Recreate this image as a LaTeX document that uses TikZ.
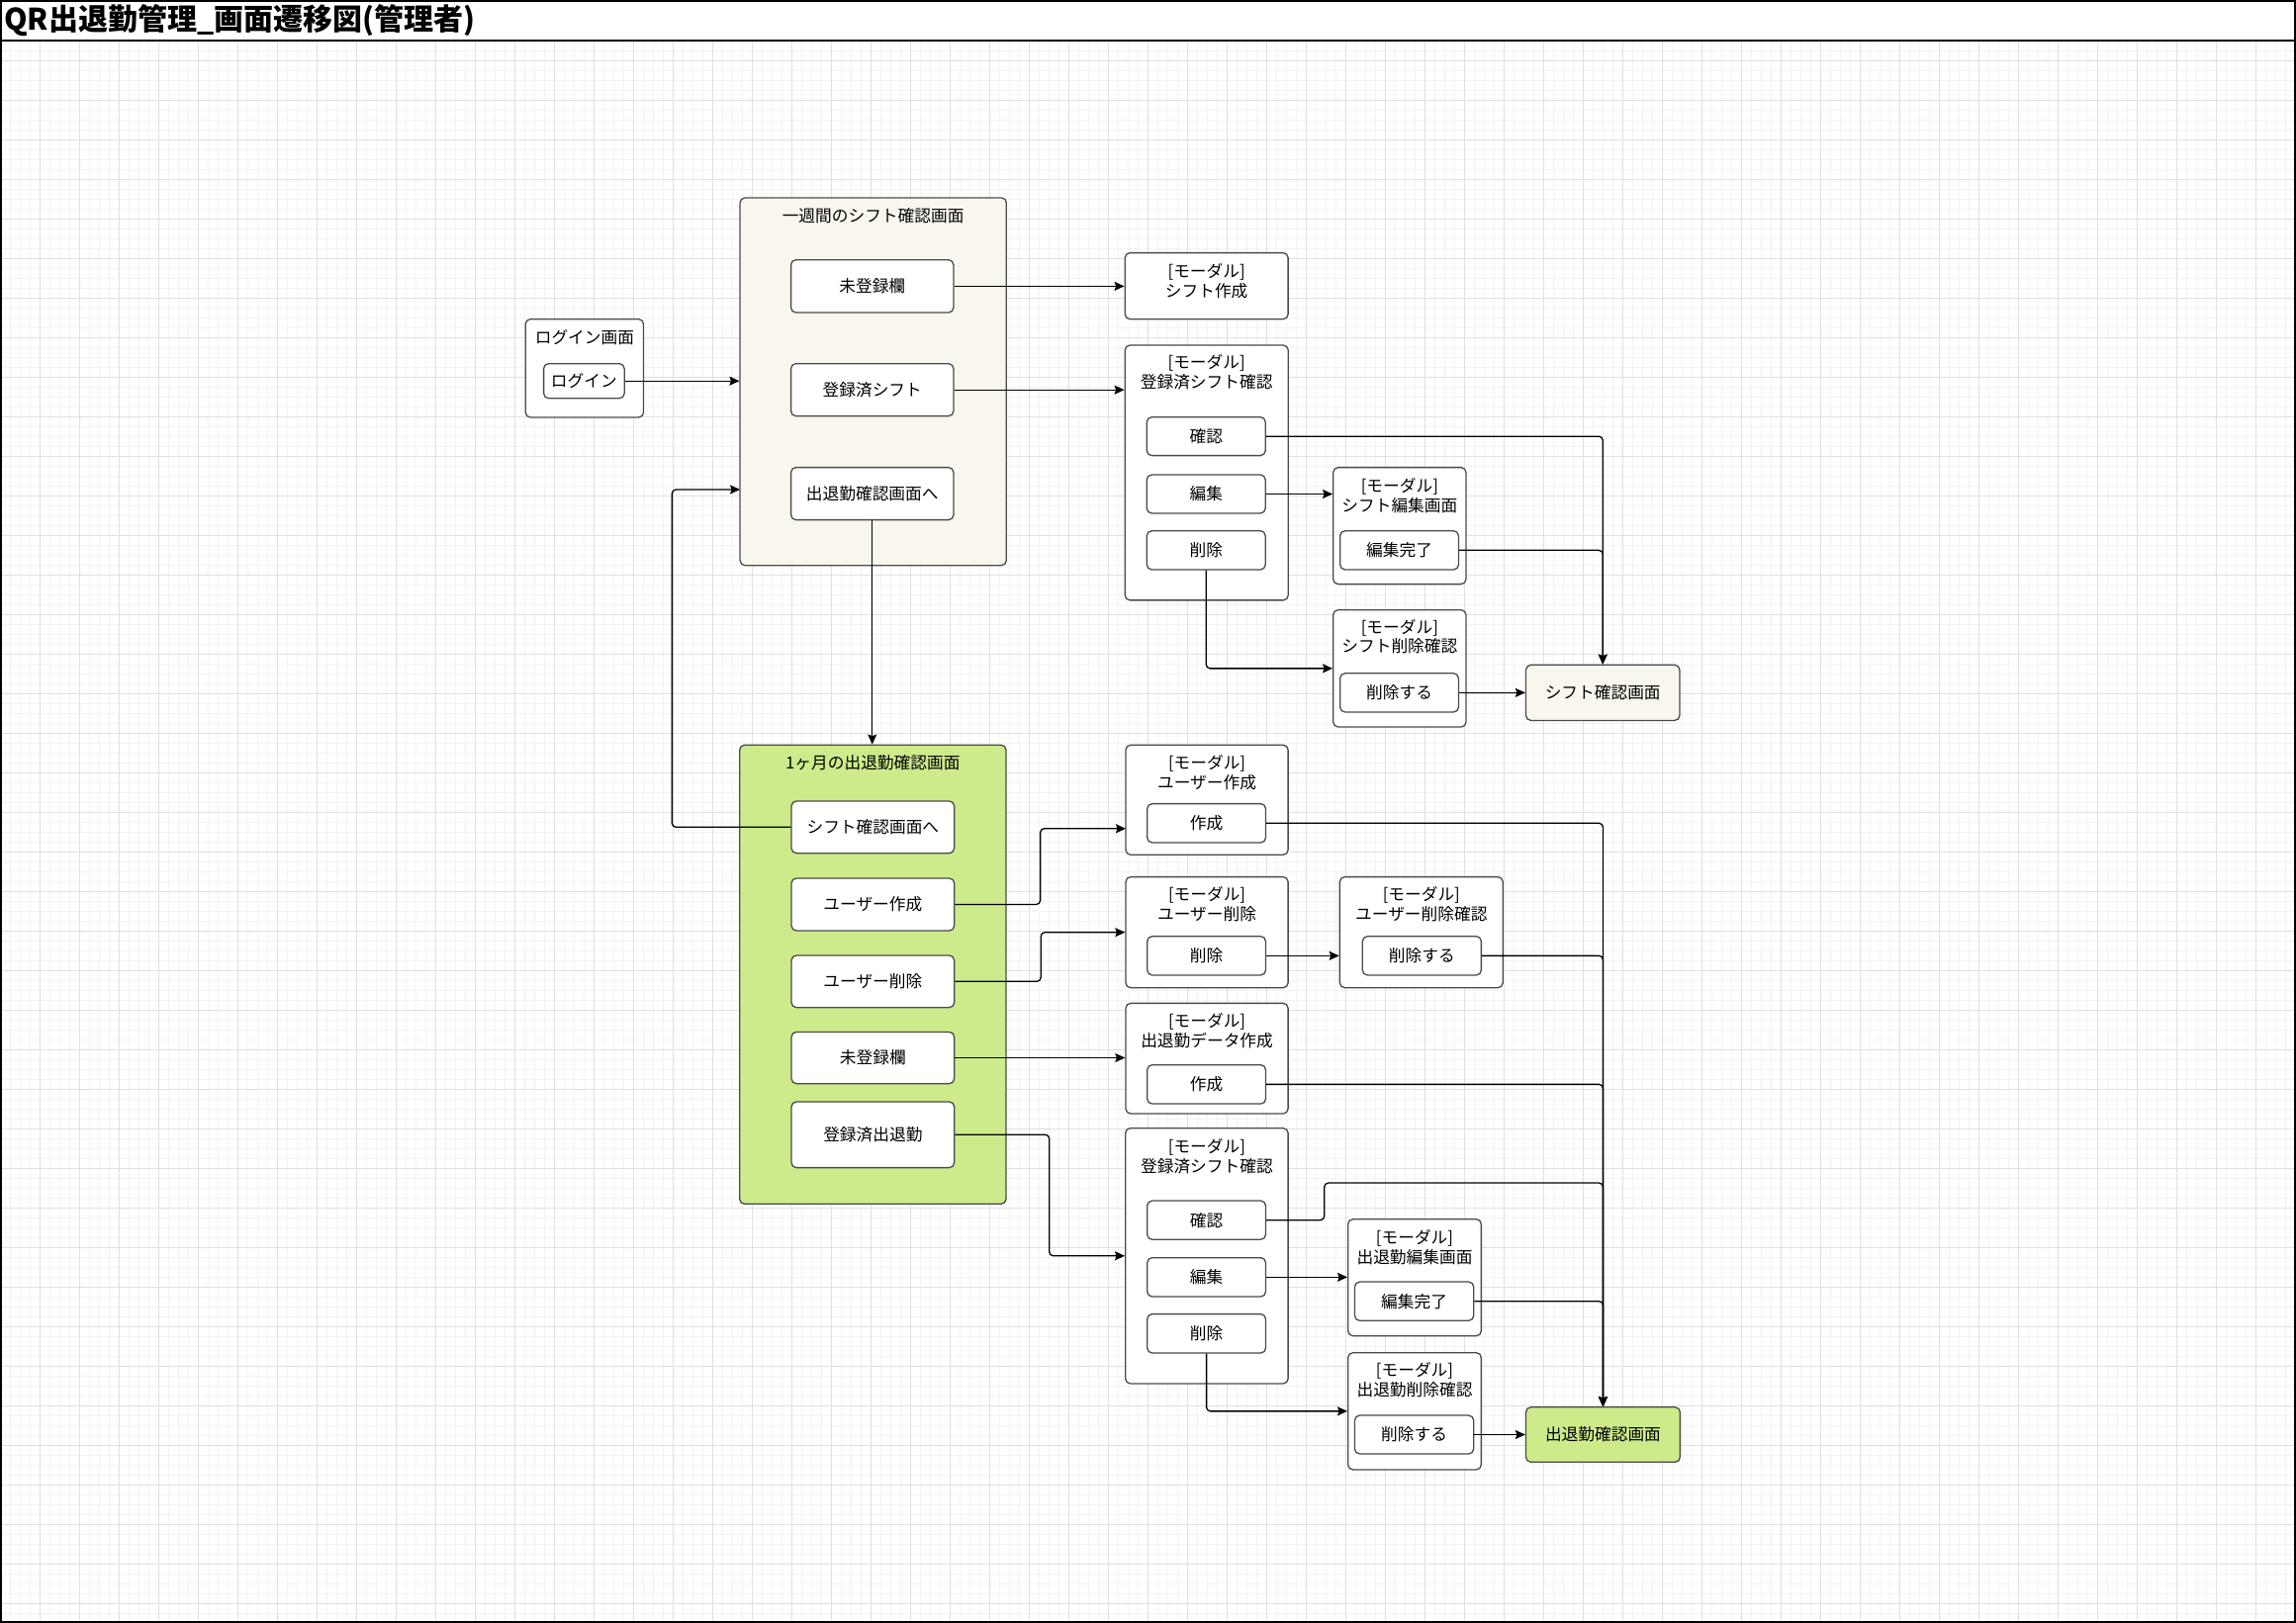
\documentclass[tikz,border=0pt]{standalone}
\usepackage{fontspec}
\setmainfont{Noto Sans CJK JP}
\usetikzlibrary{arrows.meta}

\newcommand{\bodyfont}{\fontsize{16.7pt}{19.8pt}\selectfont}
\newcommand{\headfont}{\fontsize{30pt}{36pt}\selectfont\bfseries}

\definecolor{gridminor}{HTML}{F3F3F3}
\definecolor{gridmajor}{HTML}{E0E0E0}
\definecolor{weekfill}{HTML}{F9F7ED}
\definecolor{monthfill}{HTML}{CDEB8B}
\definecolor{boxline}{HTML}{4A4A4A}

% \boxnode[style]{name}{x1}{y1}{x2}{y2}{text}: a box spanning two corners
\newcommand{\boxnode}[7][]{%
  \node[#1, minimum width={(#5-#3)*1.4802pt}, minimum height={(#6-#4)*1.4802pt}]
    (#2) at ({(#3+#5)/2},{(#4+#6)/2}) {#7};}

\tikzset{
  panel/.style={draw=boxline, line width=1.3pt, rounded corners=5pt, inner sep=0pt, fill=white},
  btn/.style={panel, font=\bodyfont, align=center},
  caption/.style={font=\bodyfont, align=center, inner sep=0pt},
  arr/.style={draw=black, line width=1.3pt, rounded corners=4pt,
    -{Stealth[length=10pt, width=9pt, inset=1.5pt]}},
}

\begin{document}
\begin{tikzpicture}[x=1pt, y=-1pt]
  \useasboundingbox (0,0) rectangle (2321,1641);

  % background grid below the heading bar
  \foreach \k in {0,...,231}
    \draw[gridminor, line width=1pt] ({0.7+10*\k},41) -- ({0.7+10*\k},1640);
  \foreach \k in {4,...,163}
    \draw[gridminor, line width=1pt] (0,{1.7+10*\k}) -- (2321,{1.7+10*\k});
  \foreach \k in {0,...,58}
    \draw[gridmajor, line width=1pt] ({0.7+40*\k},41) -- ({0.7+40*\k},1640);
  \foreach \k in {1,...,40}
    \draw[gridmajor, line width=1pt] (0,{21.7+40*\k}) -- (2321,{21.7+40*\k});

  % sheet frame and heading
  \draw[line width=2pt] (1,1) rectangle (2320,1640);
  \draw[line width=2pt] (0,41) -- (2321,41);
  \node[anchor=west, font=\headfont, inner sep=0pt] (heading) at (4,21)
    {QR出退勤管理\_画面遷移図(管理者)};

  \begin{scope}[x=1.4802pt, y=-1.4802pt]
    % ---------- screens ----------
    \boxnode[panel]{login}{358.9}{218}{439.5}{285.1}{}
    \node[caption] (loginT) at (399.2,230.2) {ログイン画面};
    \boxnode[btn]{loginbtn}{371.3}{248.4}{426.4}{272.1}{ログイン}

    \boxnode[panel, fill=weekfill]{week}{505.4}{135.1}{687.3}{386.2}{}
    \node[caption] (weekT) at (596.3,147.3) {一週間のシフト確認画面};
    \boxnode[btn]{wk1}{540.2}{177.5}{651.2}{213.5}{未登録欄}
    \boxnode[btn]{wk2}{540.2}{248.4}{651.2}{284.2}{登録済シフト}
    \boxnode[btn]{wk3}{540.2}{319.3}{651.2}{355.1}{出退勤確認画面へ}

    \boxnode[panel, fill=monthfill]{month}{505.1}{508.9}{687.1}{822.4}{}
    \node[caption] (monthT) at (596.1,521.3) {1ヶ月の出退勤確認画面};
    \boxnode[btn]{mo1}{540.5}{547.2}{651.7}{582.8}{シフト確認画面へ}
    \boxnode[btn]{mo2}{540.5}{599.9}{651.7}{635.7}{ユーザー作成}
    \boxnode[btn]{mo3}{540.5}{652.6}{651.7}{688.2}{ユーザー削除}
    \boxnode[btn]{mo4}{540.5}{704.9}{651.7}{740.2}{未登録欄}
    \boxnode[btn]{mo5}{540.5}{752.6}{651.7}{797.6}{登録済出退勤}

    % ---------- shift modals ----------
    \boxnode[panel]{m1}{768.3}{172.7}{879.7}{218}{}
    \node[caption] (m1T) at (824,192.2) {[モーダル]\\シフト作成};

    \boxnode[panel]{m2}{768.3}{235.8}{879.8}{410}{}
    \node[caption] (m2T) at (824,254.4) {[モーダル]\\登録済シフト確認};
    \boxnode[btn]{bconfA}{783.2}{284.9}{864.2}{311.2}{確認}
    \boxnode[btn]{beditA}{783.2}{324.3}{864.2}{350.6}{編集}
    \boxnode[btn]{bdelA}{783.2}{362.6}{864.2}{389.1}{削除}

    \boxnode[panel]{m3}{910.5}{319.3}{1001.2}{399}{}
    \node[caption] (m3T) at (955.85,338.6) {[モーダル]\\シフト編集画面};
    \boxnode[btn]{bdoneA}{915.2}{362.6}{996.1}{389.1}{編集完了}

    \boxnode[panel]{m4}{910.5}{416.6}{1001.2}{496.6}{}
    \node[caption] (m4T) at (955.85,434.8) {[モーダル]\\シフト削除確認};
    \boxnode[btn]{bdelconfA}{915.2}{459.9}{996.1}{486.4}{削除する}

    \boxnode[btn, fill=weekfill]{shiftscr}{1042.1}{454.2}{1147.1}{492.1}{シフト確認画面}

    % ---------- attendance modals ----------
    \boxnode[panel]{m5}{768.8}{508.9}{879.7}{583.9}{}
    \node[caption] (m5T) at (824.25,527.8) {[モーダル]\\ユーザー作成};
    \boxnode[btn]{bmk1}{783.5}{549}{864.4}{575.6}{作成}

    \boxnode[panel]{m6}{768.8}{599}{879.7}{674.7}{}
    \node[caption] (m6T) at (824.25,617.8) {[モーダル]\\ユーザー削除};
    \boxnode[btn]{budel}{783.5}{639.6}{864.4}{666.1}{削除}

    \boxnode[panel]{m7}{915}{599}{1026.4}{674.7}{}
    \node[caption] (m7T) at (970.7,617.8) {[モーダル]\\ユーザー削除確認};
    \boxnode[btn]{budel2}{930.5}{639.6}{1011.6}{666.1}{削除する}

    \boxnode[panel]{m8}{768.8}{685.3}{879.7}{760.7}{}
    \node[caption] (m8T) at (824.25,704) {[モーダル]\\出退勤データ作成};
    \boxnode[btn]{bmk2}{783.5}{727.4}{864.4}{754}{作成}

    \boxnode[panel]{m9}{768.6}{770.6}{879.7}{945.1}{}
    \node[caption] (m9T) at (824.15,789.9) {[モーダル]\\登録済シフト確認};
    \boxnode[btn]{bconfB}{783.5}{820.2}{864.4}{846.7}{確認}
    \boxnode[btn]{beditB}{783.5}{859.1}{864.4}{885.7}{編集}
    \boxnode[btn]{bdelB}{783.5}{897.6}{864.4}{924.2}{削除}

    \boxnode[panel]{m10}{920.6}{832.8}{1011.6}{912.5}{}
    \node[caption] (m10T) at (966.1,852) {[モーダル]\\出退勤編集画面};
    \boxnode[btn]{bdoneB}{925.2}{875.6}{1006.4}{902.1}{編集完了}

    \boxnode[panel]{m11}{920.6}{924}{1011.6}{1003.9}{}
    \node[caption] (m11T) at (966.1,942.7) {[モーダル]\\出退勤削除確認};
    \boxnode[btn]{bdelconfB}{925.2}{966.8}{1006.4}{993.1}{削除する}

    \boxnode[btn, fill=monthfill]{attscr}{1042.1}{961.2}{1147.4}{998.7}{出退勤確認画面}

    % ---------- transitions ----------
    \coordinate (wkin) at (505.4,334.4);
    \coordinate (ucin) at (768.8,566);

    \draw[arr] (loginbtn.east) -- (loginbtn.east -| week.west);
    \draw[arr] (wk1.east) -- (wk1.east -| m1.west);
    \draw[arr] (wk2.east) -- (wk2.east -| m2.west);
    \draw[arr] (bconfA.east) -| (shiftscr.north);
    \draw[arr] (beditA.east) -- (beditA.east -| m3.west);
    \draw[arr] (bdoneA.east) -| (shiftscr.north);
    \draw[arr] (bdelA.south) |- (m4.west);
    \draw[arr] (bdelconfA.east) -- (shiftscr.west);
    \draw[arr] (wk3.south) -- (wk3.south |- month.north);

    \draw[arr] (mo1.west) -- ++(-81.1,0) |- (wkin);
    \draw[arr] (mo2.east) -- ++(58.3,0) |- (ucin);
    \draw[arr] (mo3.east) -- ++(58.7,0) |- (m6.west);
    \draw[arr] (budel.east) -- (budel.east -| m7.west);
    \draw[arr] (budel2.east) -| (attscr.north);
    \draw[arr] (bmk1.east) -| (attscr.north);
    \draw[arr] (mo4.east) -- (mo4.east -| m8.west);
    \draw[arr] (bmk2.east) -| (attscr.north);
    \draw[arr] (mo5.east) -- ++(64.5,0) |- (m9.west);
    \draw[arr] (bconfB.east) -- ++(39.6,0) -- ++(0,-25.4) -| (attscr.north);
    \draw[arr] (beditB.east) -- (beditB.east -| m10.west);
    \draw[arr] (bdoneB.east) -| (attscr.north);
    \draw[arr] (bdelB.south) |- (m11.west);
    \draw[arr] (bdelconfB.east) -- (attscr.west);
  \end{scope}
\end{tikzpicture}
\end{document}
